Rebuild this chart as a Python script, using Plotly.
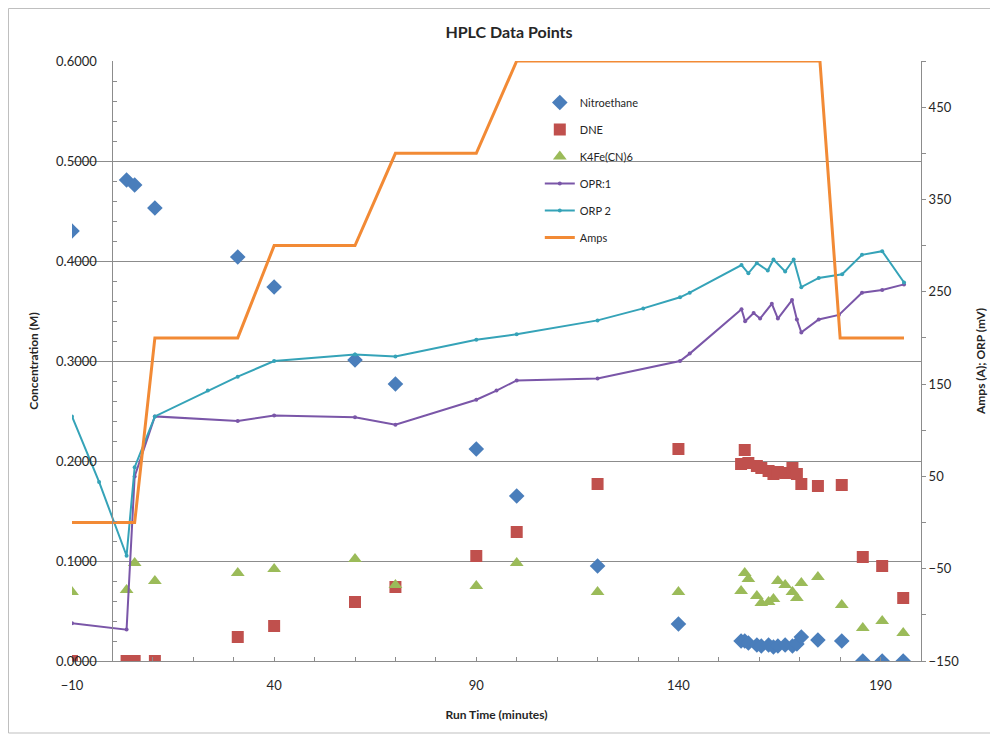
import plotly.graph_objects as go

# HPLC sample times (minutes) and concentrations (M)
hplc_time = [-10, 3.5, 5.5, 10.5, 31, 40, 60, 70, 90, 100, 120, 140,
             155.5, 156.4, 157.3, 159.4, 160.5, 162.3, 163.5, 164.6, 166.4,
             168.2, 169.3, 170.4, 174.5, 180.4, 185.6, 190.4, 195.6]
nitroethane = [0.430, 0.481, 0.476, 0.453, 0.404, 0.374, 0.301, 0.277, 0.212, 0.165, 0.095, 0.037,
               0.020, 0.020, 0.018, 0.016, 0.015, 0.016, 0.014, 0.015, 0.016,
               0.015, 0.017, 0.024, 0.021, 0.020, 0.0, 0.0, 0.0]
dne = [0.0, 0.0, 0.0, 0.0, 0.024, 0.035, 0.059, 0.074, 0.105, 0.129, 0.177, 0.212,
       0.197, 0.211, 0.198, 0.195, 0.193, 0.190, 0.187, 0.189, 0.188,
       0.193, 0.187, 0.177, 0.175, 0.176, 0.104, 0.095, 0.063]
k4fe = [0.069, 0.071, 0.098, 0.080, 0.088, 0.092, 0.102, 0.076, 0.075, 0.098, 0.069, 0.069,
        0.070, 0.088, 0.082, 0.065, 0.058, 0.059, 0.062, 0.080, 0.076,
        0.069, 0.063, 0.078, 0.084, 0.056, 0.033, 0.040, 0.028]

# ORP probe readings (mV)
orp1_time = [-10, 3.5, 5.5, 10.5, 31, 40, 60, 70, 90, 95, 100, 120, 140.4, 142.8,
             155.6, 156.5, 158.6, 160.2, 163.1, 164.6, 168.1, 169.3, 170.4,
             174.7, 179.7, 185.4, 190.4, 195.8]
orp1 = [-109, -116, 50, 115, 110, 116, 114, 106, 133, 143, 154, 156, 175, 183,
        231, 218, 227, 221, 237, 221, 241, 220, 206,
        220, 225, 249, 252, 258]
orp2_time = [-10, -3.3, 3.5, 5.5, 10.5, 23.6, 31, 40, 60, 70, 90, 100, 120, 131.3, 140.4, 142.8,
             155.6, 157.3, 159.4, 162.1, 163.5, 166.4, 168.5, 170.4,
             174.7, 180.5, 185.4, 190.4, 195.8]
orp2 = [115, 44, -36, 60, 115, 143, 158, 175, 182, 180, 198, 204, 219, 232, 244, 249,
        279, 270, 281, 273, 285, 272, 285, 255,
        265, 269, 290, 294, 260]

# Current set points
amps_time = [-10, 5.5, 10.5, 31, 40, 60, 70, 90, 100, 175, 180, 195.8]
amps = [0, 0, 200, 200, 300, 300, 400, 400, 500, 500, 200, 200]

FONT = "Lato"
GRID = "#8c8c8c"

# the page adds an 8px body margin, so the figure is 990x726 and margins are shifted
W, H = 990, 726
ML, MR, MT, MB = 64, 77, 53, 73
PW, PH = W - ML - MR, H - MT - MB

fig = go.Figure()

fig.add_trace(go.Scatter(x=hplc_time, y=nitroethane, mode="markers", name="Nitroethane",
                         legendgroup="a",
                         marker=dict(symbol="diamond", size=12, color="#4a7ebb")))
fig.add_trace(go.Scatter(x=hplc_time, y=dne, mode="markers", name="DNE",
                         legendgroup="b",
                         marker=dict(symbol="square", size=12, color="#c0504d")))
fig.add_trace(go.Scatter(x=hplc_time, y=k4fe, mode="markers", name="K4Fe(CN)6",
                         legendgroup="c",
                         marker=dict(symbol="triangle-up", size=12, color="#9bbb59")))
fig.add_trace(go.Scatter(x=orp1_time, y=orp1, mode="lines+markers", name="OPR:1",
                         legendgroup="d", yaxis="y2",
                         line=dict(color="#7a56a8", width=2),
                         marker=dict(size=4, color="#7a56a8")))
fig.add_trace(go.Scatter(x=orp2_time, y=orp2, mode="lines+markers", name="ORP 2",
                         legendgroup="e", yaxis="y2",
                         line=dict(color="#35a3b8", width=2),
                         marker=dict(size=4, color="#35a3b8")))
fig.add_trace(go.Scatter(x=amps_time, y=amps, mode="lines", name="Amps",
                         legendgroup="f", yaxis="y2",
                         line=dict(color="#f28a35", width=3)))

fig.update_layout(
    width=W, height=H,
    margin=dict(l=ML, r=MR, t=MT, b=MB, autoexpand=False),
    paper_bgcolor="white", plot_bgcolor="white",
    font=dict(family=FONT, size=13, color="#262626"),
    title=dict(text="<b>HPLC Data Points</b>", x=501 / W, y=1 - 24 / H, xanchor="center", yanchor="middle",
               font=dict(size=16, color="#262626")),
    xaxis=dict(range=[-10, 200], tick0=-10, dtick=50, ticks="inside", ticklen=4,
               tickcolor=GRID, showline=True, linecolor=GRID, showgrid=False, zeroline=False,
               ticklabelstandoff=12,
               minor=dict(ticks="inside", dtick=10, ticklen=4, tickcolor=GRID),
               title=dict(text="<b>Run Time (minutes)</b>", standoff=19, font=dict(size=12))),
    yaxis=dict(range=[0, 0.6], dtick=0.1, tickformat=".4f", anchor="free", position=10 / 210,
               showline=True, linecolor=GRID, showgrid=True, gridcolor=GRID, gridwidth=1,
               zeroline=False, ticks="", ticklabelstandoff=13,
               minor=dict(ticks="inside", dtick=0.02, ticklen=4, tickcolor=GRID),
               title=dict(text="<b>Concentration (M)</b>", standoff=13, font=dict(size=12))),
    yaxis2=dict(range=[-150, 500], tick0=-150, dtick=100, overlaying="y", side="right",
                anchor="x", showline=True, linecolor=GRID, showgrid=False, zeroline=False,
                ticks="outside", ticklen=4, tickcolor=GRID,
                minor=dict(ticks="outside", dtick=50, ticklen=4, tickcolor=GRID),
                title=dict(text="<b>Amps (A); ORP (mV)</b>", standoff=18, font=dict(size=12))),
    legend=dict(x=0.551, y=0.955, xanchor="left", yanchor="top", bgcolor="rgba(0,0,0,0)",
                traceorder="grouped", tracegroupgap=8, itemwidth=30,
                font=dict(size=11, color="#262626")),
    showlegend=True,
    shapes=[dict(type="rect", xref="paper", yref="paper",
                 x0=-(ML - 0.5) / PW, x1=(W - 4 - ML) / PW,
                 y0=-(MB - 1) / PH, y1=(PH + MT - 0.5) / PH,
                 line=dict(color="#bfbfbf", width=1), layer="below")],
)

fig.write_html("out.html")
